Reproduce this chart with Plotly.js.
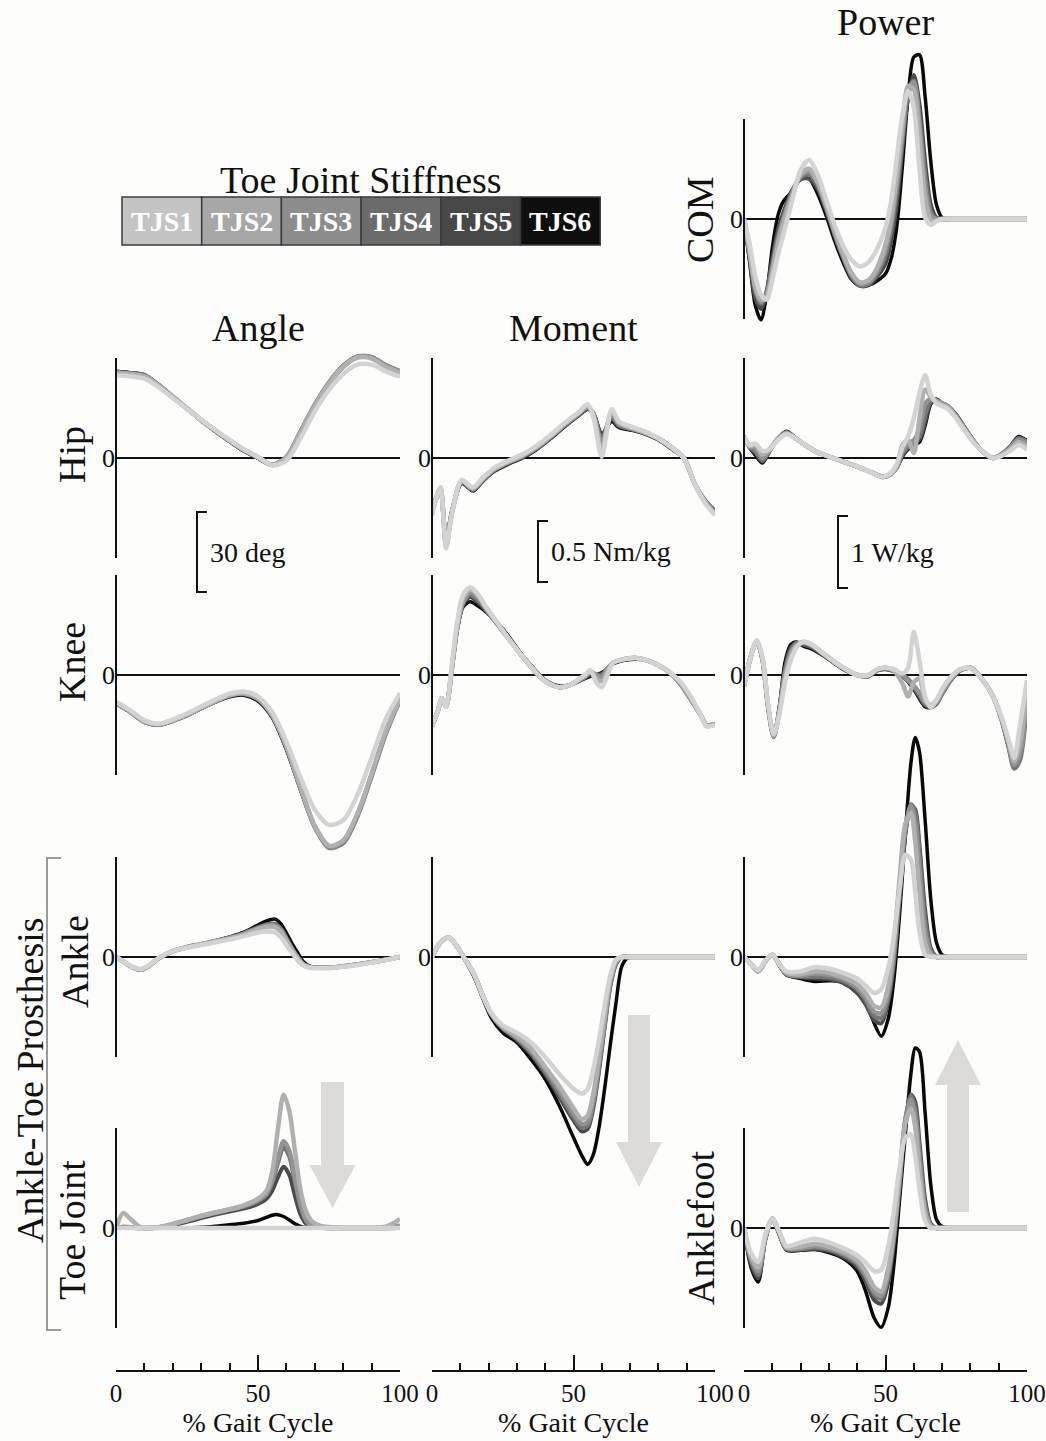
<!DOCTYPE html>
<html>
<head>
<meta charset="utf-8">
<script src="https://cdn.plot.ly/plotly-3.0.1.min.js"></script>
<style>
  html, body { margin: 0; padding: 0; background: #fdfdfb; }
  #fig { width: 1046px; height: 1441px; }
</style>
</head>
<body>
<div id="fig"></div>
<script>
// Joint kinematics, kinetics and power over the gait cycle for six toe joint stiffness settings.
const SERIES = ['TJS1', 'TJS2', 'TJS3', 'TJS4', 'TJS5', 'TJS6'];

// ---------- Angle (deg) ----------
const hipAngleX = [0,5,10,15,20,25,30,35,40,45,50,55,60,65,70,75,80,85,90,95,100];
const hipAngleY = [
  [31,30.6,29.8,26.6,22.5,18.4,14.3,10.4,6.8,3.3,0.4,-2.7,-1,7.5,17.5,25.5,31.5,35,35,32.5,30.5],
  [31.8,31.4,30.6,27.2,22.9,18.6,14.3,10.3,6.6,3.1,0.3,-2.6,0,9.5,19.5,27.8,34.2,37.6,37.3,34.2,32],
  [32,31.6,30.8,27.3,23,18.6,14.3,10.3,6.6,3.1,0.3,-2.5,0.2,9.8,19.8,28,34.5,38,37.8,34.6,32.4],
  [32.3,31.8,31,27.4,23,18.6,14.2,10.2,6.5,3,0.2,-2.5,0.3,10,20,28.3,34.6,38,37.8,34.8,32.6],
  [32.3,31.8,31,27.5,23,18.5,14,10,6.3,2.8,0,-2.6,0,9.5,19.5,28,34.5,38,37.8,34.8,32.5],
  [32.5,32,31.3,27.5,23,18.5,14,10,6.2,2.6,-0.2,-2.8,-0.5,9,19,27.5,34,37.8,37.6,34.5,32.3]
];

const kneeAngleX = [0,5,10,15,20,25,30,35,40,45,50,55,60,65,70,75,80,85,90,95,100];
const kneeAngleY = [
  [-10,-13.2,-17,-18.2,-16.7,-14.4,-11.8,-9.2,-7,-6.2,-8,-14,-25,-38.5,-50.5,-56.2,-54.5,-45,-31,-16.5,-6.8],
  [-10.4,-13.6,-17.4,-18.5,-17,-14.8,-12.2,-9.7,-7.5,-6.8,-8.8,-15,-26.5,-42,-56.5,-64,-62,-52,-37,-21,-8.8],
  [-10.5,-13.7,-17.5,-18.6,-17.1,-14.9,-12.3,-9.8,-7.6,-6.9,-8.9,-15,-26.8,-42.5,-57,-64.5,-62.5,-52.5,-37.5,-21.5,-9],
  [-10.6,-13.8,-17.6,-18.7,-17.2,-15,-12.4,-9.9,-7.7,-7,-9,-15.2,-27,-42.5,-57,-64.8,-63,-53,-38,-22,-9.3],
  [-10.6,-13.8,-17.6,-18.7,-17.2,-15,-12.4,-10,-7.8,-7.2,-9.3,-15.5,-27.5,-43,-57,-64.5,-62.5,-52.5,-37.5,-21.5,-9],
  [-10.8,-14,-17.8,-18.8,-17.3,-15.2,-12.6,-10.2,-8.2,-7.6,-9.8,-16,-28,-43,-57,-64.5,-62,-52,-37,-21,-8.5]
];

const ankleAngleX = [0,3,6,9,12,15,20,25,30,35,40,45,50,53,56,58,60,62,64,66,68,70,75,80,85,90,95,100];
const ankleAngleY = [
  [0,-2,-3.8,-4.5,-2.8,-0.3,2.2,3.5,4.5,5.5,6.5,7.8,9.2,9.6,9.2,7.5,4.5,1.5,-1.2,-3.2,-4,-4.2,-4.2,-3.7,-3,-2.1,-1.1,0],
  [0,-2,-4,-4.7,-3,-0.4,2.2,3.6,4.7,5.8,7,8.4,10.4,11.3,11.2,9.6,6.2,2.5,-0.5,-2.9,-3.8,-4,-4,-3.5,-2.8,-2,-1,0],
  [0,-2,-4,-4.8,-3,-0.5,2.2,3.7,4.8,5.9,7.1,8.6,10.7,11.7,11.7,10,6.6,2.8,-0.3,-2.8,-3.7,-3.9,-4,-3.5,-2.8,-2,-1,0],
  [0,-2,-4,-4.8,-3,-0.5,2.2,3.7,4.8,6,7.2,8.8,11,12,12.2,10.5,7,3.1,-0.1,-2.7,-3.6,-3.9,-4,-3.5,-2.8,-2,-1,0],
  [0,-2,-4,-4.8,-3,-0.5,2.2,3.7,4.8,6,7.3,9,11.2,12.2,12.4,10.8,7.2,3.3,0,-2.6,-3.6,-3.9,-4,-3.5,-2.8,-2,-1,0],
  [0,-2,-4,-4.8,-3,-0.5,2.2,3.7,4.8,6,7.5,9.3,12,13.5,14.2,12.5,9,5,1.5,-1.8,-3.3,-3.8,-4,-3.5,-2.8,-2,-1,0]
];

const toeAngleX = [0,2.5,5,8,10,15,20,25,30,35,40,45,50,53,55,57,59,61,63,65,67,69,72,76,80,85,90,95,98,100];
const toeAngleY = [
  [0,0,0,0,0,0,0,0,0,0,0,0,0,0,0,0,0,0,0,0,0,0,0,0,0,0,0,0,0,0],
  [0,5.6,3.5,0.7,0,0.3,1.5,3,4.5,5.8,7,8.5,11,14,21,37,50,44,29,14,6,2.5,0.8,0.3,0,0,0,0.5,2,3.5],
  [0,0.5,0.3,0,0,0.3,1.5,3,4.5,5.8,7,8.3,10.5,13,18,26,32.5,29,19,9,3,1,0.3,0,0,0,0,0,0.5,1],
  [0,0.3,0.2,0,0,0.2,1.3,2.8,4.3,5.6,6.8,8,10,12.5,17,24.5,30.5,27,17.5,8,2.5,0.8,0.2,0,0,0,0,0,0,0.5],
  [0,0,0,0,0,0.1,1,2.3,3.7,5,6.2,7.3,9,11,14,19,23,20,12,5,1.5,0.4,0,0,0,0,0,0,0,0],
  [0,0,0,0,0,0,0,0.1,0.3,0.7,1.2,1.8,2.8,4,4.8,5,4.3,3,1.6,0.6,0.1,0,0,0,0,0,0,0,0,0]
];

// ---------- Moment (Nm/kg) ----------
const hipMomentX = [0,1.5,3,5,7,10.5,14.5,18,22,27,32,37,42,47,52,55,57,60,63.5,66,70,75,80,85,89,93,96.5,100];
const hipMomentY = [
  [-0.47,-0.33,-0.24,-0.74,-0.46,-0.18,-0.24,-0.16,-0.08,-0.02,0.03,0.1,0.19,0.29,0.38,0.44,0.34,0.01,0.4,0.3,0.26,0.22,0.16,0.08,0,-0.22,-0.37,-0.47],
  [-0.46,-0.33,-0.25,-0.73,-0.46,-0.19,-0.25,-0.17,-0.09,-0.03,0.02,0.09,0.18,0.28,0.37,0.43,0.35,0.07,0.39,0.29,0.25,0.21,0.16,0.08,0,-0.22,-0.36,-0.46],
  [-0.45,-0.33,-0.25,-0.72,-0.45,-0.19,-0.25,-0.17,-0.09,-0.03,0.02,0.09,0.18,0.28,0.37,0.42,0.36,0.12,0.37,0.28,0.25,0.21,0.16,0.08,0,-0.22,-0.36,-0.45],
  [-0.44,-0.33,-0.26,-0.7,-0.45,-0.2,-0.26,-0.18,-0.1,-0.04,0.01,0.08,0.17,0.27,0.36,0.41,0.36,0.16,0.34,0.27,0.24,0.21,0.16,0.08,0,-0.22,-0.35,-0.44],
  [-0.43,-0.32,-0.26,-0.68,-0.44,-0.2,-0.26,-0.18,-0.1,-0.04,0.01,0.08,0.17,0.27,0.36,0.41,0.37,0.18,0.32,0.26,0.24,0.2,0.15,0.07,0,-0.22,-0.35,-0.44],
  [-0.42,-0.32,-0.27,-0.66,-0.44,-0.21,-0.27,-0.19,-0.11,-0.05,0,0.07,0.16,0.26,0.35,0.4,0.37,0.2,0.3,0.25,0.23,0.2,0.15,0.07,0,-0.22,-0.35,-0.43]
];

const kneeMomentX = [0,2,3.5,5,7,9,11,13.5,16,19,23,27,31,36,40,45,49,52,54,56,58,60,62,64,68,72,76,80,84,88,92,95,97,100];
const kneeMomentY = [
  [-0.42,-0.3,-0.19,-0.26,0.08,0.45,0.66,0.72,0.67,0.56,0.43,0.3,0.18,0.04,-0.05,-0.1,-0.08,-0.03,0,0.04,-0.06,-0.1,0,0.1,0.13,0.14,0.12,0.08,0.02,-0.06,-0.2,-0.33,-0.42,-0.41],
  [-0.42,-0.3,-0.19,-0.26,0.06,0.42,0.63,0.7,0.66,0.56,0.43,0.3,0.18,0.04,-0.05,-0.1,-0.08,-0.04,-0.01,0.03,-0.03,-0.05,0.03,0.1,0.13,0.14,0.12,0.08,0.02,-0.07,-0.21,-0.33,-0.42,-0.4],
  [-0.42,-0.3,-0.19,-0.26,0.05,0.4,0.6,0.68,0.64,0.55,0.42,0.3,0.18,0.04,-0.05,-0.1,-0.08,-0.04,-0.01,0.03,0,-0.02,0.05,0.1,0.13,0.14,0.12,0.08,0.02,-0.08,-0.22,-0.33,-0.41,-0.4],
  [-0.42,-0.3,-0.19,-0.26,0.05,0.4,0.59,0.66,0.62,0.54,0.42,0.3,0.18,0.04,-0.05,-0.1,-0.08,-0.04,-0.02,0.02,0,0,0.05,0.1,0.13,0.14,0.12,0.08,0.02,-0.08,-0.22,-0.33,-0.41,-0.4],
  [-0.42,-0.3,-0.19,-0.26,0.05,0.39,0.58,0.64,0.6,0.53,0.42,0.31,0.18,0.05,-0.05,-0.1,-0.08,-0.05,-0.02,0,0,0.01,0.05,0.1,0.13,0.14,0.12,0.08,0.02,-0.08,-0.22,-0.33,-0.41,-0.4],
  [-0.42,-0.3,-0.19,-0.26,0.05,0.38,0.56,0.6,0.57,0.52,0.43,0.32,0.19,0.05,-0.04,-0.09,-0.08,-0.05,-0.03,-0.01,0,0.02,0.05,0.09,0.12,0.13,0.12,0.08,0.02,-0.08,-0.22,-0.33,-0.41,-0.4]
];

const ankleMomentX = [0,3,6,9,12,15,18,21,25,30,35,40,45,50,53,55,57,59,61,63,65,67,69,72,80,90,100];
const ankleMomentY = [
  [0,0.12,0.16,0.08,-0.03,-0.15,-0.32,-0.46,-0.56,-0.62,-0.7,-0.82,-0.96,-1.08,-1.12,-1.08,-0.92,-0.68,-0.4,-0.15,-0.02,0,0,0,0,0,0],
  [0,0.12,0.16,0.08,-0.03,-0.15,-0.32,-0.47,-0.57,-0.65,-0.75,-0.9,-1.06,-1.24,-1.33,-1.3,-1.12,-0.82,-0.48,-0.18,-0.03,0,0,0,0,0,0],
  [0,0.12,0.16,0.08,-0.03,-0.15,-0.32,-0.47,-0.58,-0.66,-0.77,-0.92,-1.09,-1.28,-1.37,-1.35,-1.17,-0.87,-0.52,-0.2,-0.04,0,0,0,0,0,0],
  [0,0.12,0.16,0.08,-0.03,-0.15,-0.32,-0.47,-0.58,-0.67,-0.78,-0.94,-1.12,-1.31,-1.4,-1.38,-1.2,-0.9,-0.55,-0.22,-0.05,0,0,0,0,0,0],
  [0,0.12,0.16,0.08,-0.03,-0.15,-0.32,-0.47,-0.59,-0.68,-0.8,-0.96,-1.15,-1.34,-1.43,-1.41,-1.24,-0.94,-0.58,-0.24,-0.06,0,0,0,0,0,0],
  [0,0.12,0.16,0.08,-0.04,-0.17,-0.34,-0.5,-0.62,-0.7,-0.84,-1,-1.22,-1.48,-1.63,-1.7,-1.62,-1.4,-1.08,-0.72,-0.38,-0.08,-0.01,0,0,0,0]
];

// ---------- Power (W/kg) ----------
const comPowerX = [0,2,4,6,8,10,12,14,17,20,23,26,29,32,35,38,41,44,47,50,52,54,56,58,60,62,64,66,68,70,75,100];
const comPowerY = [
  [0,-0.35,-0.8,-1.05,-1.12,-0.85,-0.5,-0.2,0.25,0.68,0.82,0.62,0.27,-0.08,-0.37,-0.57,-0.66,-0.6,-0.42,-0.12,0.25,0.85,1.45,1.78,1.55,0.7,0.02,-0.08,-0.03,0,0,0],
  [0,-0.45,-0.95,-1.12,-1.08,-0.75,-0.35,-0.05,0.32,0.62,0.7,0.52,0.2,-0.16,-0.48,-0.75,-0.88,-0.85,-0.68,-0.35,0.02,0.6,1.3,1.85,1.8,1.1,0.3,-0.02,-0.02,0,0,0],
  [0,-0.45,-0.95,-1.15,-1.05,-0.7,-0.3,0,0.35,0.6,0.66,0.5,0.18,-0.18,-0.5,-0.77,-0.9,-0.88,-0.72,-0.42,-0.05,0.5,1.2,1.8,1.9,1.3,0.45,0.05,0,0,0,0],
  [0,-0.5,-1,-1.18,-1.02,-0.65,-0.25,0.03,0.37,0.58,0.62,0.47,0.16,-0.2,-0.52,-0.79,-0.92,-0.9,-0.76,-0.5,-0.15,0.4,1.1,1.75,1.92,1.4,0.6,0.1,0,0,0,0],
  [0,-0.55,-1.1,-1.25,-1,-0.55,-0.15,0.1,0.4,0.55,0.56,0.42,0.12,-0.23,-0.55,-0.82,-0.93,-0.92,-0.8,-0.62,-0.3,0.2,1,1.7,2,1.6,0.8,0.2,0.02,0,0,0],
  [0,-0.6,-1.2,-1.4,-1.05,-0.4,0.05,0.25,0.38,0.56,0.56,0.35,0.05,-0.3,-0.6,-0.84,-0.93,-0.92,-0.86,-0.76,-0.55,-0.1,0.75,1.7,2.25,2.28,1.7,0.8,0.2,0.02,0,0]
];

const hipPowerX = [0,2,4,6.5,9,12,15,18,22,26,30,35,40,45,49,52,54,56,58,60,62,64,66,68,70,72,75,78,81,84,88,91,94,97,100];
const hipPowerY = [
  [0.3,0.18,0.2,0.1,0.12,0.25,0.33,0.28,0.17,0.08,0.02,-0.05,-0.12,-0.2,-0.26,-0.2,-0.08,0.15,0.3,0.55,0.9,1.15,0.88,0.76,0.72,0.68,0.55,0.38,0.22,0.1,0,0.03,0.1,0.18,0.12],
  [0.3,0.17,0.18,0.05,0.12,0.26,0.34,0.28,0.17,0.08,0.02,-0.05,-0.12,-0.2,-0.26,-0.22,-0.1,0.18,0.25,0.07,0.55,0.95,0.85,0.78,0.74,0.7,0.56,0.39,0.23,0.1,0,0.04,0.12,0.22,0.16],
  [0.3,0.16,0.14,0,0.11,0.27,0.35,0.28,0.17,0.08,0.02,-0.05,-0.12,-0.2,-0.26,-0.22,-0.12,0.1,0.2,0.25,0.4,0.75,0.82,0.8,0.76,0.72,0.58,0.4,0.24,0.1,0,0.05,0.14,0.25,0.2],
  [0.3,0.15,0.1,-0.03,0.1,0.27,0.35,0.28,0.17,0.08,0.02,-0.05,-0.12,-0.2,-0.26,-0.22,-0.12,0.06,0.16,0.22,0.3,0.6,0.8,0.8,0.76,0.72,0.58,0.41,0.24,0.1,0,0.05,0.15,0.27,0.22],
  [0.3,0.15,0.07,-0.05,0.1,0.27,0.36,0.28,0.17,0.08,0.02,-0.05,-0.12,-0.2,-0.26,-0.22,-0.13,0.04,0.14,0.2,0.26,0.5,0.76,0.8,0.76,0.72,0.6,0.42,0.25,0.1,0,0.05,0.15,0.28,0.23],
  [0.3,0.14,0.04,-0.07,0.09,0.27,0.37,0.29,0.17,0.08,0.02,-0.05,-0.12,-0.2,-0.27,-0.23,-0.14,0.02,0.12,0.18,0.22,0.45,0.75,0.82,0.76,0.72,0.6,0.42,0.25,0.1,0,0.06,0.16,0.3,0.24]
];

const kneePowerX = [0,2,4.5,6.5,8.5,10.5,12.5,14.5,16.5,18.5,21,24,28,32,36,40,44,47,50,53,56,58,60,62,64,66,68,70,73,76,80,84,88,91,93.5,95.5,97.5,100];
const kneePowerY = [
  [-0.16,0.2,0.48,0.25,-0.4,-0.82,-0.55,-0.1,0.2,0.38,0.46,0.42,0.3,0.18,0.08,0,0,0.08,0.1,0.08,0.02,0.1,0.6,0.2,-0.3,-0.45,-0.35,-0.2,-0.03,0.07,0.1,-0.05,-0.3,-0.58,-0.9,-1.15,-0.7,-0.07],
  [-0.16,0.2,0.48,0.24,-0.42,-0.84,-0.52,-0.05,0.25,0.4,0.46,0.42,0.3,0.18,0.08,0,0,0.08,0.1,0.06,-0.12,-0.3,-0.1,-0.05,-0.35,-0.42,-0.35,-0.2,-0.04,0.07,0.1,-0.05,-0.3,-0.6,-0.93,-1.2,-0.95,-0.2],
  [-0.16,0.2,0.47,0.23,-0.43,-0.85,-0.5,0,0.3,0.42,0.45,0.41,0.3,0.18,0.08,0,-0.01,0.07,0.1,0.06,0,-0.08,-0.15,-0.25,-0.38,-0.42,-0.38,-0.24,-0.06,0.06,0.1,-0.05,-0.3,-0.6,-0.96,-1.25,-1.1,-0.28],
  [-0.16,0.2,0.47,0.22,-0.44,-0.86,-0.48,0.05,0.33,0.44,0.44,0.4,0.29,0.17,0.07,0,-0.01,0.07,0.09,0.06,0,-0.06,-0.15,-0.28,-0.4,-0.44,-0.4,-0.26,-0.07,0.06,0.1,-0.05,-0.3,-0.62,-1,-1.3,-1.18,-0.35],
  [-0.16,0.2,0.47,0.22,-0.45,-0.86,-0.46,0.1,0.38,0.45,0.42,0.38,0.28,0.17,0.07,0,-0.02,0.06,0.08,0.05,-0.01,-0.08,-0.18,-0.3,-0.42,-0.45,-0.4,-0.26,-0.08,0.05,0.1,-0.05,-0.3,-0.62,-1,-1.28,-1.12,-0.32],
  [-0.16,0.2,0.46,0.21,-0.46,-0.86,-0.44,0.18,0.42,0.46,0.4,0.36,0.27,0.16,0.06,0,-0.02,0.06,0.08,0.05,-0.02,-0.1,-0.2,-0.33,-0.44,-0.45,-0.4,-0.26,-0.08,0.05,0.1,-0.05,-0.3,-0.6,-0.98,-1.22,-1.05,-0.28]
];

const anklePowerX = [0,2.5,5,7.5,10,12.5,15,20,25,30,35,40,43,46,48.5,51,53,55,57,59,60.5,62,64,66,68,70,73,80,90,100];
const anklePowerY = [
  [0,-0.1,-0.18,-0.05,0.03,-0.1,-0.2,-0.2,-0.14,-0.16,-0.22,-0.3,-0.4,-0.5,-0.45,-0.15,0.3,0.95,1.42,1.35,0.9,0.35,0.03,0,0,0,0,0,0,0],
  [0,-0.1,-0.2,-0.06,0.03,-0.1,-0.22,-0.24,-0.2,-0.22,-0.28,-0.38,-0.5,-0.68,-0.7,-0.4,0.2,1.1,1.85,2,1.6,0.9,0.2,0.02,0,0,0,0,0,0],
  [0,-0.1,-0.2,-0.06,0.03,-0.1,-0.23,-0.26,-0.23,-0.25,-0.3,-0.42,-0.56,-0.76,-0.78,-0.48,0.1,1,1.8,2.1,1.85,1.2,0.35,0.05,0,0,0,0,0,0],
  [0,-0.1,-0.2,-0.06,0.03,-0.1,-0.24,-0.27,-0.27,-0.28,-0.33,-0.45,-0.6,-0.82,-0.85,-0.55,0,0.9,1.75,2.12,2,1.4,0.5,0.08,0,0,0,0,0,0],
  [0,-0.1,-0.2,-0.06,0.03,-0.11,-0.24,-0.28,-0.3,-0.31,-0.36,-0.5,-0.66,-0.88,-0.92,-0.62,-0.08,0.8,1.7,2.1,2.05,1.55,0.65,0.12,0.01,0,0,0,0,0],
  [0,-0.1,-0.2,-0.06,0.03,-0.12,-0.25,-0.3,-0.34,-0.33,-0.34,-0.42,-0.6,-0.92,-1.1,-0.85,-0.3,0.6,1.7,2.7,3.05,2.85,1.9,0.8,0.2,0.03,0,0,0,0]
];

const ankleFootPowerX = [0,2.5,5,7.5,10,12.5,15,20,25,30,35,40,43,46,48.5,51,53,55,57,59,60.5,62,64,66,68,70,73,80,90,100];
const ankleFootPowerY = [
  [0,-0.35,-0.47,-0.1,0.13,-0.05,-0.25,-0.2,-0.15,-0.2,-0.28,-0.38,-0.48,-0.6,-0.58,-0.25,0.25,0.85,1.25,1.3,1,0.55,0.1,0,0,0,0,0,0,0],
  [0,-0.4,-0.55,-0.12,0.13,-0.06,-0.27,-0.26,-0.22,-0.26,-0.33,-0.45,-0.6,-0.82,-0.88,-0.55,-0.02,0.75,1.45,1.66,1.4,0.8,0.2,0.02,0,0,0,0,0,0],
  [0,-0.42,-0.6,-0.14,0.13,-0.07,-0.28,-0.28,-0.25,-0.28,-0.35,-0.48,-0.65,-0.88,-0.94,-0.62,-0.08,0.7,1.5,1.78,1.55,0.95,0.25,0.03,0,0,0,0,0,0],
  [0,-0.45,-0.65,-0.15,0.13,-0.08,-0.29,-0.29,-0.27,-0.3,-0.37,-0.5,-0.68,-0.92,-0.98,-0.66,-0.12,0.65,1.5,1.84,1.65,1.05,0.32,0.04,0,0,0,0,0,0],
  [0,-0.5,-0.7,-0.16,0.13,-0.08,-0.3,-0.3,-0.29,-0.32,-0.4,-0.54,-0.74,-1,-1.05,-0.75,-0.2,0.55,1.45,1.85,1.75,1.2,0.4,0.06,0,0,0,0,0,0],
  [0,-0.55,-0.75,-0.18,0.13,-0.1,-0.31,-0.31,-0.3,-0.34,-0.42,-0.6,-0.88,-1.25,-1.38,-1.1,-0.5,0.4,1.3,2.15,2.5,2.45,1.6,0.6,0.12,0.02,0,0,0,0]
];

// Gait-cycle axis ticks
const xTickVals = [0, 50, 100];
const xTickText = ['0', '50', '100'];
const xMinorVals = [10, 20, 30, 40, 60, 70, 80, 90];

// ---------- Page geometry (pixels on a 1046 x 1441 page) ----------
const W = 1046, H = 1441;
const fx = px => px / W;
const fy = py => 1 - py / H;

const FONT = 'Liberation Serif, Times New Roman, serif';
const INK = '#111111';
const LINE_COLORS = ['#d3d3d3', '#b0b0b0', '#939393', '#767676', '#4b4b4b', '#080808'];
const LINE_WIDTHS = [4.5, 4.5, 4.5, 4.5, 4, 3.5];
const BOX_COLORS = ['#c4c4c4', '#a7a7a7', '#8d8d8d', '#6b6b6b', '#474747', '#0e0e0e'];

const COLS = [[116, 400], [432, 715], [744, 1027]];
const ZERO = { com: 219, hip: 458, knee: 675, ankle: 957, toe: 1228 };
const PX_PER = { angle: 80 / 30, moment: 61 / 0.5, power: 72 };
const AXIS_Y = 1371;
const BAR_HALF = 100;
const EXT = 235;

const panels = [
  { col: 0, row: 'hip',   kind: 'angle',  x: hipAngleX,      y: hipAngleY },
  { col: 0, row: 'knee',  kind: 'angle',  x: kneeAngleX,     y: kneeAngleY },
  { col: 0, row: 'ankle', kind: 'angle',  x: ankleAngleX,    y: ankleAngleY },
  { col: 0, row: 'toe',   kind: 'angle',  x: toeAngleX,      y: toeAngleY },
  { col: 1, row: 'hip',   kind: 'moment', x: hipMomentX,     y: hipMomentY },
  { col: 1, row: 'knee',  kind: 'moment', x: kneeMomentX,    y: kneeMomentY },
  { col: 1, row: 'ankle', kind: 'moment', x: ankleMomentX,   y: ankleMomentY },
  { col: 2, row: 'com',   kind: 'power',  x: comPowerX,      y: comPowerY },
  { col: 2, row: 'hip',   kind: 'power',  x: hipPowerX,      y: hipPowerY },
  { col: 2, row: 'knee',  kind: 'power',  x: kneePowerX,     y: kneePowerY },
  { col: 2, row: 'ankle', kind: 'power',  x: anklePowerX,    y: anklePowerY },
  { col: 2, row: 'toe',   kind: 'power',  x: ankleFootPowerX, y: ankleFootPowerY }
];

const layout = {
  width: W, height: H,
  margin: { l: 0, r: 0, t: 0, b: 0, pad: 0 },
  paper_bgcolor: '#fdfdfb',
  plot_bgcolor: 'rgba(0,0,0,0)',
  showlegend: false,
  font: { family: FONT, color: INK, size: 24 },
  shapes: [],
  annotations: []
};

// Shared gait-cycle axes, one per column, drawn below the panels
COLS.forEach((c, i) => {
  layout[i === 0 ? 'xaxis' : 'xaxis' + (i + 1)] = {
    domain: [fx(c[0]), fx(c[1])],
    range: [0, 100],
    anchor: 'free', position: fy(AXIS_Y),
    showline: true, linecolor: INK, linewidth: 2,
    showgrid: false, zeroline: false,
    tickmode: 'array', tickvals: xTickVals, ticktext: xTickText,
    ticks: 'inside', ticklen: 15, tickwidth: 2, tickcolor: INK,
    minor: { tickmode: 'array', tickvals: xMinorVals, ticks: 'inside', ticklen: 7, tickwidth: 2, tickcolor: INK, showgrid: false },
    tickfont: { family: FONT, size: 25, color: INK },
    title: { text: '% Gait Cycle', font: { family: FONT, size: 28, color: INK }, standoff: 2 },
    automargin: false, fixedrange: true
  };
});

const traces = [];
panels.forEach((p, k) => {
  const xId = p.col === 0 ? 'x' : 'x' + (p.col + 1);
  const yId = k === 0 ? 'y' : 'y' + (k + 1);
  const yKey = k === 0 ? 'yaxis' : 'yaxis' + (k + 1);
  const zero = ZERO[p.row];
  const s = PX_PER[p.kind];
  const top = Math.max(0, zero - EXT);
  const bot = Math.min(H, zero + EXT);
  layout[yKey] = {
    domain: [fy(bot), fy(top)],
    range: [-(bot - zero) / s, (zero - top) / s],
    anchor: xId,
    showgrid: false, showline: false,
    zeroline: true, zerolinecolor: INK, zerolinewidth: 2,
    tickmode: 'array', tickvals: [0], ticktext: ['0'], ticks: '',
    tickfont: { family: FONT, size: 26, color: INK },
    automargin: false, fixedrange: true
  };
  // vertical axis bar centred on zero
  layout.shapes.push({
    type: 'line', xref: 'paper', yref: 'paper',
    x0: fx(COLS[p.col][0]), x1: fx(COLS[p.col][0]),
    y0: fy(zero - BAR_HALF), y1: fy(zero + BAR_HALF),
    line: { color: INK, width: 2 }
  });
  // darkest series first so the lighter ones sit on top
  for (let i = SERIES.length - 1; i >= 0; i--) {
    traces.push({
      type: 'scatter', mode: 'lines', name: SERIES[i],
      x: p.x, y: p.y[i], xaxis: xId, yaxis: yId,
      line: { color: LINE_COLORS[i], width: LINE_WIDTHS[i], shape: 'spline', smoothing: 0.8 },
      hoverinfo: 'skip', showlegend: false
    });
  }
});

// Scale bars
const scaleBars = [
  { x: 197, top: 512, kind: 'angle', value: 30, label: '30 deg' },
  { x: 538, top: 521, kind: 'moment', value: 0.5, label: '0.5 Nm/kg' },
  { x: 838, top: 516, kind: 'power', value: 1, label: '1 W/kg' }
];
scaleBars.forEach(b => {
  const bottom = b.top + b.value * PX_PER[b.kind];
  layout.shapes.push({
    type: 'path', xref: 'paper', yref: 'paper',
    path: `M ${fx(b.x + 10)} ${fy(b.top)} L ${fx(b.x)} ${fy(b.top)} L ${fx(b.x)} ${fy(bottom)} L ${fx(b.x + 10)} ${fy(bottom)}`,
    line: { color: INK, width: 2 }
  });
  layout.annotations.push({
    xref: 'paper', yref: 'paper', x: fx(b.x + 11), y: fy((b.top + bottom) / 2),
    xanchor: 'left', yanchor: 'middle', showarrow: false,
    text: b.label, font: { family: FONT, size: 28, color: INK }
  });
});

// Trend arrows
function arrowPath(cx, shaftHalf, headHalf, tail, headBase, tip) {
  const pts = [
    [cx - shaftHalf, tail], [cx + shaftHalf, tail], [cx + shaftHalf, headBase],
    [cx + headHalf, headBase], [cx, tip], [cx - headHalf, headBase], [cx - shaftHalf, headBase]
  ];
  return 'M ' + pts.map(q => fx(q[0]) + ' ' + fy(q[1])).join(' L ') + ' Z';
}
[
  arrowPath(332.5, 11.5, 23, 1082, 1165, 1208),
  arrowPath(639, 11, 23, 1015, 1142, 1187),
  arrowPath(958, 11, 23, 1212, 1085, 1040)
].forEach(path => layout.shapes.push({
  type: 'path', xref: 'paper', yref: 'paper', path: path,
  fillcolor: '#dddbd9', line: { width: 0 }, layer: 'below'
}));

// Bracket grouping the prosthesis rows
layout.shapes.push({
  type: 'path', xref: 'paper', yref: 'paper',
  path: `M ${fx(61)} ${fy(858)} L ${fx(47)} ${fy(858)} L ${fx(47)} ${fy(1330)} L ${fx(61)} ${fy(1330)}`,
  line: { color: '#7a7a7a', width: 1.5 }
});

// Stiffness legend bar
const LEG_X0 = 122, LEG_W = 79.7, LEG_Y0 = 197, LEG_Y1 = 245;
SERIES.forEach((name, i) => {
  const x0 = LEG_X0 + i * LEG_W;
  layout.shapes.push({
    type: 'rect', xref: 'paper', yref: 'paper',
    x0: fx(x0), x1: fx(x0 + LEG_W), y0: fy(LEG_Y1), y1: fy(LEG_Y0),
    fillcolor: BOX_COLORS[i], line: { color: '#3a3a3a', width: 1.5 }
  });
  layout.annotations.push({
    xref: 'paper', yref: 'paper', x: fx(x0 + LEG_W / 2), y: fy((LEG_Y0 + LEG_Y1) / 2),
    xanchor: 'center', yanchor: 'middle', showarrow: false,
    text: '<b>' + name + '</b>', font: { family: FONT, size: 28, color: '#ffffff' }
  });
});

// Titles and row labels
const labels = [
  { text: 'Toe Joint Stiffness', x: 361, y: 180, angle: 0 },
  { text: 'Power', x: 885, y: 22, angle: 0 },
  { text: 'Angle', x: 258, y: 328, angle: 0 },
  { text: 'Moment', x: 573, y: 328, angle: 0 },
  { text: 'COM', x: 700, y: 220, angle: -90 },
  { text: 'Hip', x: 72, y: 455, angle: -90 },
  { text: 'Knee', x: 72, y: 662, angle: -90 },
  { text: 'Ankle', x: 75, y: 962, angle: -90 },
  { text: 'Toe Joint', x: 72, y: 1230, angle: -90 },
  { text: 'Ankle-Toe Prosthesis', x: 30, y: 1080, angle: -90 },
  { text: 'Anklefoot', x: 701, y: 1228, angle: -90 }
];
labels.forEach(l => layout.annotations.push({
  xref: 'paper', yref: 'paper', x: fx(l.x), y: fy(l.y),
  xanchor: 'center', yanchor: 'middle', showarrow: false, textangle: l.angle,
  text: l.text, font: { family: FONT, size: 38, color: INK }
}));

Plotly.newPlot('fig', traces, layout, { staticPlot: true, displayModeBar: false });
</script>
</body>
</html>
